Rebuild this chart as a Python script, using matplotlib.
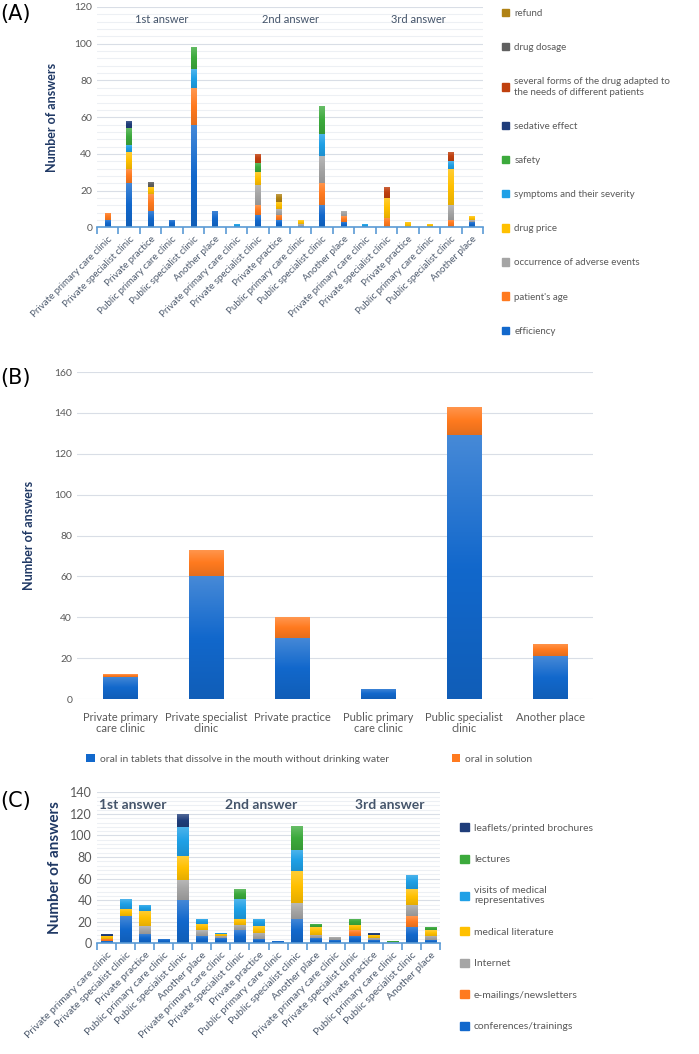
import matplotlib.pyplot as plt
import numpy as np
from matplotlib.patches import Patch
from matplotlib.ticker import MultipleLocator
from matplotlib.colors import to_rgb

plt.rcParams['font.family'] = ['Lato', 'DejaVu Sans']

places = ['Private primary care clinic', 'Private specialist clinic', 'Private practice',
          'Public primary care clinic', 'Public specialist clinic', 'Another place']
cats = places * 3
answers = ['1st answer', '2nd answer', '3rd answer']

# (A) factors - 18 bars, 6 places x 3 answers
efficiency =  [4, 24, 9, 4, 56, 9,   0, 7, 4, 0, 12, 3,   0, 0, 0, 0, 0, 3]
patient_age = [4, 8, 9, 0, 20, 0,    0, 5, 3, 0, 12, 3,   0, 5, 0, 0, 4, 0]
adverse =     [0, 0, 0, 0, 0, 0,     0, 11, 3, 2, 15, 3,  0, 0, 0, 0, 8, 1]
price =       [0, 9, 4, 0, 0, 0,     0, 7, 4, 2, 0, 0,    0, 11, 3, 2, 20, 2]
symptoms =    [0, 4, 0, 0, 10, 0,    2, 0, 0, 0, 12, 0,   2, 0, 0, 0, 4, 0]
safety =      [0, 9, 0, 0, 12, 0,    0, 5, 0, 0, 15, 0,   0, 0, 0, 0, 0, 0]
sedative =    [0, 4, 0, 0, 0, 0,     0, 0, 0, 0, 0, 0,    0, 0, 0, 0, 0, 0]
forms =       [0, 0, 0, 0, 0, 0,     0, 5, 0, 0, 0, 0,    0, 6, 0, 0, 5, 0]
dosage =      [0, 0, 3, 0, 0, 0,     0, 0, 0, 0, 0, 0,    0, 0, 0, 0, 0, 0]
refund =      [0, 0, 0, 0, 0, 0,     0, 0, 4, 0, 0, 0,    0, 0, 0, 0, 0, 0]

names_a = ['efficiency', "patient's age", 'occurrence of adverse events', 'drug price',
           'symptoms and their severity', 'safety', 'sedative effect',
           'several forms of the drug adapted to\nthe needs of different patients',
           'drug dosage', 'refund']
colors_a = ['#1268CC', '#FF7A1F', '#A5A5A5', '#FFC000', '#1FA0E6', '#3CAA3C',
            '#1F3D7A', '#C0400E', '#606060', '#B08214']

# (B) form of the drug
b_labels = ['Private primary\ncare clinic', 'Private specialist\nclinic', 'Private practice',
            'Public primary\ncare clinic', 'Public specialist\nclinic', 'Another place']
tablets = [11, 60, 30, 5, 129, 21]
solution = [1, 13, 10, 0, 14, 6]

# (C) sources of information
conferences = [2, 25, 9, 4, 40, 7,   5, 12, 4, 2, 23, 5,   3, 7, 3, 0, 15, 3]
emailings =   [2, 0, 0, 0, 0, 0,     0, 0, 0, 0, 0, 0,     0, 5, 0, 0, 10, 0]
internet =    [0, 0, 7, 0, 19, 5,    2, 5, 6, 0, 14, 3,    3, 0, 2, 1, 11, 4]
literature =  [3, 7, 14, 0, 22, 6,   2, 6, 6, 0, 30, 7,    0, 5, 3, 0, 14, 5]
visits =      [0, 9, 6, 0, 27, 5,    1, 18, 7, 0, 20, 0,   0, 0, 0, 0, 13, 0]
lectures =    [0, 0, 0, 0, 0, 0,     0, 9, 0, 0, 22, 3,    0, 6, 0, 1, 0, 3]
leaflets =    [2, 0, 0, 0, 12, 0,    0, 0, 0, 0, 0, 0,     0, 0, 2, 0, 0, 0]

names_c = ['conferences/trainings', 'e-mailings/newsletters', 'Internet', 'medical literature',
           'visits of medical\nrepresentatives', 'lectures', 'leaflets/printed brochures']
colors_c = ['#1268CC', '#FF7A1F', '#A5A5A5', '#FFC000', '#1FA0E6', '#3CAA3C', '#1F3D7A']

tick_col = '#595959'
lab_col = '#4E5B6E'
axis_col = '#5B9BD5'
navy = '#1F3864'

fig = plt.figure(figsize=(6.99, 10.54), dpi=100)


def shade(ax, bars, color):
    # excel-like vertical gradient: lighter top, darker bottom
    base = np.array(to_rgb(color))
    top = base + (1 - base) * 0.22
    bot = base * 0.9
    t = np.linspace(0, 1, 64)[:, None]
    grad = np.where(t < 0.5, top + (base - top) * (t / 0.5), base + (bot - base) * ((t - 0.5) / 0.5))
    img = grad[:, None, :]
    for r in bars:
        if r.get_height() <= 0:
            continue
        x0, y0 = r.get_x(), r.get_y()
        im = ax.imshow(img, extent=(x0, x0 + r.get_width(), y0, y0 + r.get_height()),
                       aspect='auto', origin='upper', zorder=3.1, interpolation='bilinear')
        im.set_clip_path(r)


def stacked_panel(ax, series, colors, width, ymax, fs_lab):
    x = np.arange(len(cats))
    bottom = np.zeros(len(cats))
    for vals, c in zip(series, colors):
        bars = ax.bar(x, vals, width, bottom=bottom, color=c, zorder=3)
        shade(ax, bars, c)
        bottom += np.array(vals)
    ax.set_xlim(-0.5, len(cats) - 0.5)
    ax.set_ylim(0, ymax)
    ax.yaxis.set_major_locator(MultipleLocator(20))
    ax.yaxis.set_minor_locator(MultipleLocator(4))
    ax.grid(axis='y', which='major', color='#D9DEE6', lw=0.8, zorder=0)
    ax.grid(axis='y', which='minor', color='#EDF0F4', lw=0.8, zorder=0)
    for s in ['top', 'right', 'left']:
        ax.spines[s].set_visible(False)
    ax.spines['bottom'].set_color(axis_col)
    ax.spines['bottom'].set_linewidth(1.2)
    ax.spines['bottom'].set_zorder(4)
    ax.set_xticks(x)
    ax.set_xticklabels(cats, rotation=45, ha='right', rotation_mode='anchor',
                       fontsize=fs_lab, color=lab_col)
    ax.set_xticks(np.arange(-0.5, len(cats)), minor=True)
    ax.tick_params(axis='x', which='major', length=0, pad=5)
    ax.tick_params(axis='x', which='minor', length=5, color=axis_col, width=1.2)
    ax.tick_params(axis='y', which='both', length=0, colors=tick_col)


# ---- (A)
axA = fig.add_axes([0.1388, 0.7842, 0.5522, 0.2092])
series_a = [efficiency, patient_age, adverse, price, symptoms, safety, sedative, forms, dosage, refund]
stacked_panel(axA, series_a, colors_a, 0.27, 120, 7)
axA.tick_params(axis='y', labelsize=7.5)
axA.set_ylabel('Number of answers', fontsize=9, fontweight='bold', color=navy, labelpad=12)
for i, a in enumerate(answers):
    axA.text(2.5 + 6 * i, 113, a, ha='center', va='center', fontsize=8, color='#44546A')
handles = [Patch(color=c) for c in colors_a]
fig.legend(handles[::-1], names_a[::-1], loc='upper left', bbox_to_anchor=(0.705, 1.0),
           frameon=False, fontsize=7, labelcolor=tick_col, handlelength=0.8, handleheight=0.8,
           handletextpad=0.5, labelspacing=2.58)
fig.text(0.0, 0.987, '(A)', fontsize=15, va='center', ha='left', family='DejaVu Sans')

# ---- (B)
axB = fig.add_axes([0.1102, 0.3368, 0.7382, 0.3102])
xb = np.arange(len(b_labels))
bt = axB.bar(xb, tablets, 0.4, color='#1268CC', zorder=3,
             label='oral in tablets that dissolve in the mouth without drinking water')
shade(axB, bt, '#1268CC')
bs = axB.bar(xb, solution, 0.4, bottom=tablets, color='#FF7A1F', zorder=3, label='oral in solution')
shade(axB, bs, '#FF7A1F')
axB.set_xlim(-0.5, len(b_labels) - 0.5)
axB.set_ylim(0, 160)
axB.yaxis.set_major_locator(MultipleLocator(20))
axB.grid(axis='y', color='#D9DEE6', lw=0.8, zorder=0)
for s in axB.spines.values():
    s.set_visible(False)
axB.set_xticks(xb)
axB.set_xticklabels(b_labels, fontsize=8, color=tick_col, linespacing=1.1)
axB.tick_params(axis='both', length=0, colors=tick_col)
axB.tick_params(axis='x', pad=9)
axB.tick_params(axis='y', labelsize=7.5)
axB.set_ylabel('Number of answers', fontsize=9, fontweight='bold', color=navy, labelpad=14)
axB.legend(loc='upper left', bbox_to_anchor=(0.0, -0.14), ncol=2, frameon=False, fontsize=7.5,
           labelcolor=tick_col, handlelength=0.8, handleheight=0.8, handletextpad=0.5,
           columnspacing=6)
fig.text(0.0, 0.641, '(B)', fontsize=15, va='center', ha='left', family='DejaVu Sans')

# ---- (C)
axC = fig.add_axes([0.1388, 0.1049, 0.4907, 0.1434])
series_c = [conferences, emailings, internet, literature, visits, lectures, leaflets]
stacked_panel(axC, series_c, colors_c, 0.6, 140, 7.5)
axC.tick_params(axis='y', labelsize=9)
axC.set_ylabel('Number of answers', fontsize=11, fontweight='bold', color=navy, labelpad=6)
for i, a in enumerate(answers):
    axC.text(1.35 + 6.75 * i, 128, a, ha='center', va='center', fontsize=10,
             fontweight='bold', color='#44546A')
handles = [Patch(color=c) for c in colors_c]
fig.legend(handles[::-1], names_c[::-1], loc='upper left', bbox_to_anchor=(0.645, 0.228),
           frameon=False, fontsize=7.5, labelcolor=tick_col, handlelength=0.8, handleheight=0.8,
           handletextpad=0.5, labelspacing=2.1)
fig.text(0.0, 0.24, '(C)', fontsize=15, va='center', ha='left', family='DejaVu Sans')

fig.savefig('out.png', dpi=100, facecolor='white')
